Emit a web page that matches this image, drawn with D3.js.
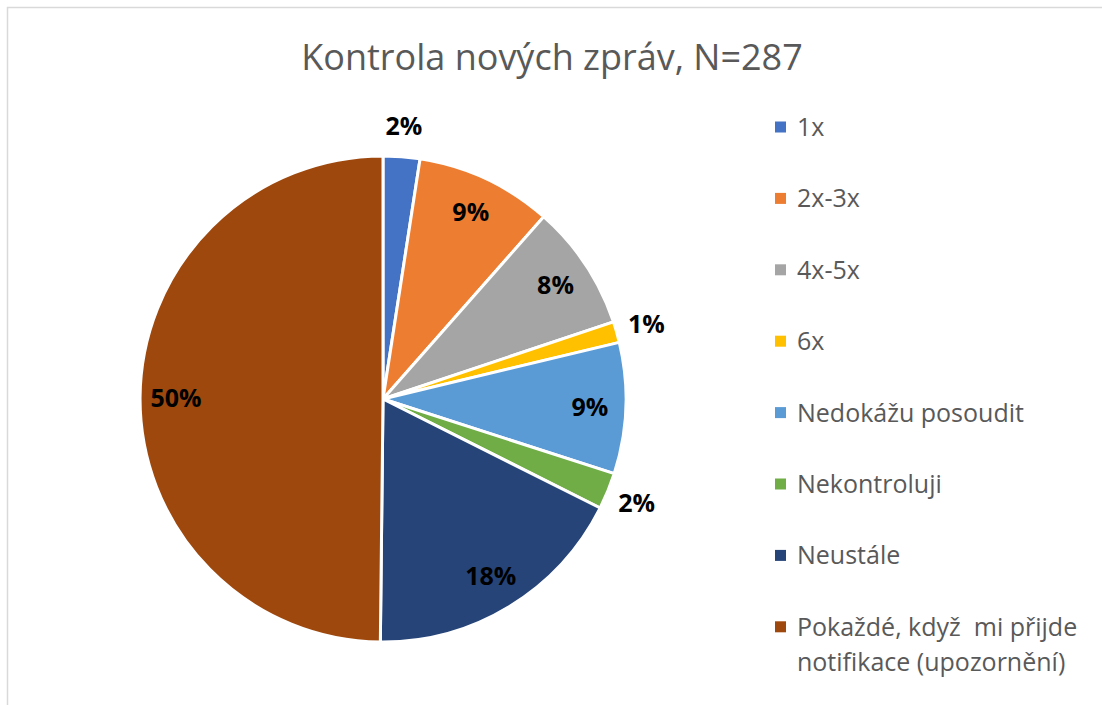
<!DOCTYPE html>
<html>
<head>
<meta charset="utf-8">
<script src="https://cdn.jsdelivr.net/npm/d3@7"></script>
<style>
  body { margin: 0; background: #fff; }
  svg { display: block; font-family: "Open Sans", sans-serif; }
</style>
</head>
<body>
<script>
// data
var categories = ["1x", "2x-3x", "4x-5x", "6x", "Nedokážu posoudit", "Nekontroluji", "Neustále",
  "Pokaždé, když  mi přijde notifikace (upozornění)"];
var counts = [7, 26, 24, 4, 25, 7, 51, 143];
var colors = ["#4472C4", "#ED7D31", "#A5A5A5", "#FFC000", "#5B9BD5", "#70AD47", "#264478", "#9E480E"];
var title = "Kontrola nových zpráv, N=287";

var width = 1102,
  height = 705;

var svg = d3.select("body").append("svg")
  .attr("width", width)
  .attr("height", height);

// chart border
svg.append("rect")
  .attr("x", 7.5).attr("y", 7.5)
  .attr("width", width + 20).attr("height", height + 20)
  .attr("fill", "#fff")
  .attr("stroke", "#d9d9d9")
  .attr("stroke-width", 1.5);

// title
svg.append("text")
  .attr("x", 552).attr("y", 70)
  .attr("text-anchor", "middle")
  .attr("fill", "#595959")
  .style("font-size", "36px")
  .text(title);

var data = categories.map(function(c, i) {
  return { name: c, value: counts[i], color: colors[i] };
});
var total = d3.sum(counts);

var radius = 243;
var g = svg.append("g").attr("transform", "translate(383,399)");

var pie = d3.pie().sort(null).value(function(d) { return d.value; });
var arc = d3.arc().innerRadius(0).outerRadius(radius);
var inArc = d3.arc().innerRadius(207).outerRadius(207);
var outArc = d3.arc().innerRadius(274).outerRadius(274);

var arcs = pie(data);

g.selectAll(".slice")
  .data(arcs)
  .enter().append("path")
  .attr("class", "slice")
  .attr("d", arc)
  .attr("fill", function(d) { return d.data.color; })
  .attr("stroke", "#fff")
  .attr("stroke-width", 3)
  .attr("stroke-linejoin", "round");

// percentage labels (small slices go outside)
g.selectAll(".lbl")
  .data(arcs)
  .enter().append("text")
  .attr("class", "lbl")
  .attr("transform", function(d) {
    var share = d.data.value / total;
    var c = share < 0.05 ? outArc.centroid(d) : inArc.centroid(d);
    return "translate(" + c + ")";
  })
  .attr("text-anchor", "middle")
  .attr("dy", "0.36em")
  .style("font-size", "25px")
  .style("font-weight", "bold")
  .attr("fill", "#000")
  .text(function(d) { return Math.round(d.data.value / total * 100) + "%"; });

// legend
var legend = svg.append("g").attr("transform", "translate(775,127)");
var item = legend.selectAll(".item")
  .data(data)
  .enter().append("g")
  .attr("class", "item")
  .attr("transform", function(d, i) { return "translate(0," + (i * 71.4) + ")"; });

item.append("rect")
  .attr("x", 0).attr("y", -5.5)
  .attr("width", 11).attr("height", 11)
  .attr("fill", function(d) { return d.color; });

item.append("text")
  .attr("x", 22)
  .attr("y", 0)
  .attr("dy", "0.36em")
  .attr("fill", "#595959")
  .style("font-size", "25px")
  .style("white-space", "pre")
  .each(function(d) {
    var t = d3.select(this);
    if (d.name.indexOf("Pokaždé") === 0) {
      t.append("tspan").attr("x", 22).text("Pokaždé, když  mi přijde");
      t.append("tspan").attr("x", 22).attr("dy", "1.4em").text("notifikace (upozornění)");
    } else {
      t.text(d.name);
    }
  });
</script>
</body>
</html>
